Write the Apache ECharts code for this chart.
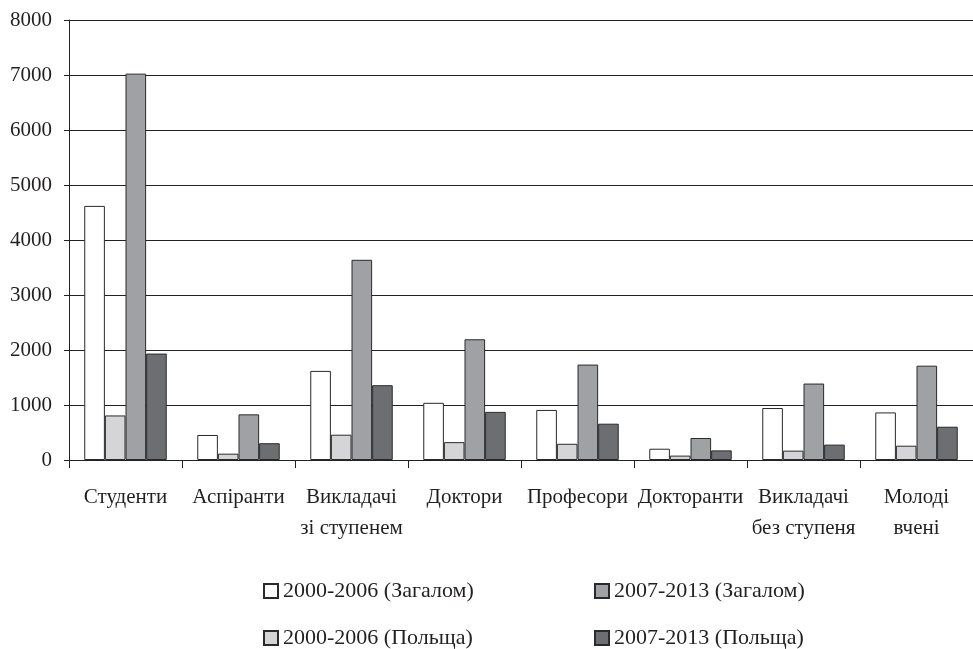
<!DOCTYPE html>
<html>
<head>
<meta charset="utf-8">
<script src="https://cdn.jsdelivr.net/npm/echarts@6/dist/echarts.min.js"></script>
<style>
  html, body { margin: 0; padding: 0; background: #fff; }
  #chart { width: 973px; height: 649px; }
</style>
</head>
<body>
<div id="chart"></div>
<script>
// categories (x axis)
var categories = [
  "Студенти", "Аспіранти", "Викладачі\nзі ступенем", "Доктори",
  "Професори", "Докторанти", "Викладачі\nбез ступеня", "Молоді\nвчені"
];
// series values
var total0006 = [4620, 455, 1620, 1040, 910, 205, 945, 865];
var poland0006 = [810, 115, 460, 325, 295, 80, 170, 260];
var total0713 = [7025, 830, 3640, 2195, 1735, 400, 1390, 1715];
var poland0713 = [1935, 305, 1360, 875, 660, 175, 280, 605];
var yTicks = [0, 1000, 2000, 3000, 4000, 5000, 6000, 7000, 8000];

var FONT = "Liberation Serif";
var TXT = "#231f20";

var myChart = echarts.init(document.getElementById("chart")); //初始化实例

function barSeries(name, data, fill) {
  return {
    name: name,
    type: "bar",
    data: data,
    barGap: 0,
    barCategoryGap: "27%",
    itemStyle: {
      color: fill,
      borderColor: "#2a2a2a",
      borderWidth: 1
    }
  };
}

function legendAt(name, left, top) {
  return {
    data: [name],
    left: left,
    top: top,
    icon: "rect",
    itemWidth: 14,
    itemHeight: 14,
    textStyle: { fontFamily: FONT, fontSize: 22, color: TXT }
  };
}

var option = {
  animation: false,
  backgroundColor: "#ffffff",
  grid: {
    left: 69,
    top: 20,
    width: 912,
    height: 440
  },
  legend: [
    legendAt("2000-2006 (Загалом)", 258, 575),
    legendAt("2007-2013 (Загалом)", 589, 575),
    legendAt("2000-2006 (Польща)", 258, 622),
    legendAt("2007-2013 (Польща)", 589, 622)
  ],
  xAxis: {
    type: "category",
    data: categories,
    axisLine: { lineStyle: { color: "#222222", width: 1 } },
    axisTick: { show: true, length: 8, lineStyle: { color: "#222222" } },
    axisLabel: {
      interval: 0,
      margin: 22,
      fontFamily: FONT,
      fontSize: 21,
      lineHeight: 31,
      color: TXT
    }
  },
  yAxis: {
    type: "value",
    min: yTicks[0],
    max: yTicks[yTicks.length - 1],
    interval: 1000,
    axisLine: { show: true, lineStyle: { color: "#222222", width: 1 } },
    axisTick: { show: true, length: 5, lineStyle: { color: "#222222" } },
    splitLine: { show: true, lineStyle: { color: "#222222", width: 1 } },
    axisLabel: {
      margin: 17,
      fontFamily: FONT,
      fontSize: 21,
      color: TXT,
      formatter: function (v) { return String(v); }
    }
  },
  series: [
    barSeries("2000-2006 (Загалом)", total0006, "#ffffff"),
    barSeries("2000-2006 (Польща)", poland0006, "#d5d5d7"),
    barSeries("2007-2013 (Загалом)", total0713, "#a0a1a5"),
    barSeries("2007-2013 (Польща)", poland0713, "#6d6e72")
  ]
};

myChart.setOption(option);
</script>
</body>
</html>
